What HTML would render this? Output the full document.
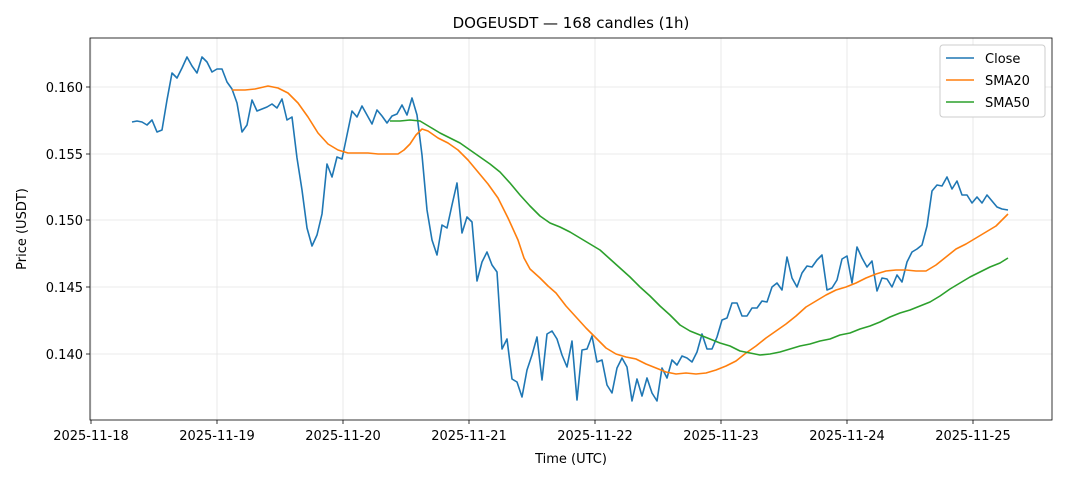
<!DOCTYPE html>
<html><head><meta charset="utf-8"><style>
html,body{margin:0;padding:0;background:#fff;}
svg text{font-family:"DejaVu Sans","Liberation Sans",sans-serif;fill:#000;}
</style></head><body>
<svg width="1068" height="481" viewBox="0 0 1068 481" xmlns="http://www.w3.org/2000/svg">
<rect width="1068" height="481" fill="#fff"/>
<g stroke="#e5e5e5" stroke-width="0.8">
<line x1="91" y1="38" x2="91" y2="420"/><line x1="217" y1="38" x2="217" y2="420"/><line x1="343" y1="38" x2="343" y2="420"/><line x1="469" y1="38" x2="469" y2="420"/><line x1="595" y1="38" x2="595" y2="420"/><line x1="721" y1="38" x2="721" y2="420"/><line x1="847" y1="38" x2="847" y2="420"/><line x1="973" y1="38" x2="973" y2="420"/>
<line x1="90" y1="87" x2="1052" y2="87"/><line x1="90" y1="154" x2="1052" y2="154"/><line x1="90" y1="220" x2="1052" y2="220"/><line x1="90" y1="287" x2="1052" y2="287"/><line x1="90" y1="354" x2="1052" y2="354"/>
</g>
<g fill="none" stroke-width="1.6" stroke-linejoin="round">
<polyline stroke="#1f77b4" points="132,122 137,121 142,122 147,125 152,120 157,132 162,130 167,100 172,73 177,78 182,68 187,57 192,66 197,73 202,57 207,62 212,72 217,69 222,69 227,82 232,89 237,103 242,132 247,125 252,100 257,111 262,109 267,107 272,104 277,108 282,99 287,120 292,117 297,158 302,190 307,228 312,246 317,235 322,214 327,164 332,177 337,157 342,159 347,135 352,111 357,117 362,106 367,115 372,124 377,110 382,116 387,123 392,116 397,114 402,105 407,115 412,98 417,115 422,155 427,210 432,240 437,255 442,225 447,228 452,205 457,183 462,233 467,217 472,222 477,281 482,262 487,252 492,265 497,272 502,349 507,339 512,379 517,382 522,397 527,370 532,355 537,337 542,380 547,334 552,331 557,339 562,355 567,367 572,341 577,400 582,350 587,349 592,336 597,362 602,360 607,385 612,393 617,368 622,358 627,367 632,401 637,379 642,396 647,378 652,393 657,401 662,368 667,378 672,360 677,365 682,356 687,358 692,362 697,352 702,334 707,349 712,349 717,337 722,320 727,318 732,303 737,303 742,316 747,316 752,308 757,308 762,301 767,302 772,287 777,283 782,290 787,257 792,278 797,287 802,273 807,266 812,267 817,260 822,255 827,290 832,288 837,280 842,259 847,256 852,283 857,247 862,258 867,267 872,261 877,291 882,278 887,279 892,287 897,275 902,282 907,262 912,252 917,249 922,245 927,226 932,191 937,185 942,186 947,177 952,189 957,181 962,195 967,195 972,203 977,197 982,203 987,195 992,201 997,207 1002,209 1008,210"/>
<polyline stroke="#ff7f0e" points="232,90 245,90 255,89 268,86 278,88 288,93 298,103 308,117 318,133 328,144 338,150 348,153 358,153 368,153 378,154 388,154 398,154 404,150 410,144 416,135 422,129 428,131 438,138 448,143 458,150 468,160 478,172 488,184 498,198 508,218 518,240 524,258 530,269 540,278 548,286 556,293 566,306 576,317 586,328 596,338 606,348 616,354 626,357 636,359 646,364 656,368 666,372 676,374 686,373 696,374 706,373 716,370 726,366 736,361 746,353 756,346 766,338 776,331 786,324 796,316 806,307 816,301 826,295 836,290 846,287 856,283 866,278 876,274 886,271 896,270 906,270 916,271 926,271 936,265 946,257 956,249 966,244 976,238 986,232 996,226 1008,214"/>
<polyline stroke="#2ca02c" points="390,121 400,121 410,120 420,121 430,127 440,133 450,138 460,143 470,150 480,157 490,164 500,172 510,183 520,195 530,206 540,216 550,223 560,227 570,232 580,238 590,244 600,250 610,259 620,268 630,277 640,287 650,296 660,306 670,315 680,325 690,331 700,335 710,339 720,343 730,346 740,351 750,353 760,355 770,354 780,352 790,349 800,346 810,344 820,341 830,339 840,335 850,333 860,329 870,326 880,322 890,317 900,313 910,310 920,306 930,302 940,296 950,289 960,283 970,277 980,272 990,267 1000,263 1008,258"/>
</g>
<rect x="90" y="38" width="962" height="382" fill="none" stroke="#000" stroke-width="0.8"/>
<g stroke="#000" stroke-width="0.8">
<line x1="91" y1="420" x2="91" y2="424"/><line x1="217" y1="420" x2="217" y2="424"/><line x1="343" y1="420" x2="343" y2="424"/><line x1="469" y1="420" x2="469" y2="424"/><line x1="595" y1="420" x2="595" y2="424"/><line x1="721" y1="420" x2="721" y2="424"/><line x1="847" y1="420" x2="847" y2="424"/><line x1="973" y1="420" x2="973" y2="424"/>
<line x1="86" y1="87" x2="90" y2="87"/><line x1="86" y1="154" x2="90" y2="154"/><line x1="86" y1="220" x2="90" y2="220"/><line x1="86" y1="287" x2="90" y2="287"/><line x1="86" y1="354" x2="90" y2="354"/>
</g>
<g font-size="13" text-anchor="middle">
<text x="91" y="440">2025-11-18</text><text x="217" y="440">2025-11-19</text><text x="343" y="440">2025-11-20</text><text x="469" y="440">2025-11-21</text><text x="595" y="440">2025-11-22</text><text x="721" y="440">2025-11-23</text><text x="847" y="440">2025-11-24</text><text x="973" y="440">2025-11-25</text>
<text x="571" y="463">Time (UTC)</text>
<text x="571" y="28" font-size="15">DOGEUSDT — 168 candles (1h)</text>
</g>
<g font-size="13" text-anchor="end">
<text x="83" y="92">0.160</text><text x="83" y="159">0.155</text><text x="83" y="225">0.150</text><text x="83" y="292">0.145</text><text x="83" y="359">0.140</text>
</g>
<text transform="translate(26,229) rotate(-90)" font-size="13" text-anchor="middle">Price (USDT)</text>
<rect x="940" y="45" width="105" height="72" rx="3" fill="#fff" stroke="#ccc"/>
<line x1="946" y1="58" x2="974" y2="58" stroke="#1f77b4" stroke-width="1.6"/>
<line x1="946" y1="80" x2="974" y2="80" stroke="#ff7f0e" stroke-width="1.6"/>
<line x1="946" y1="102" x2="974" y2="102" stroke="#2ca02c" stroke-width="1.6"/>
<g font-size="13"><text x="985" y="63">Close</text><text x="985" y="85">SMA20</text><text x="985" y="107">SMA50</text></g>
</svg>
</body></html>
